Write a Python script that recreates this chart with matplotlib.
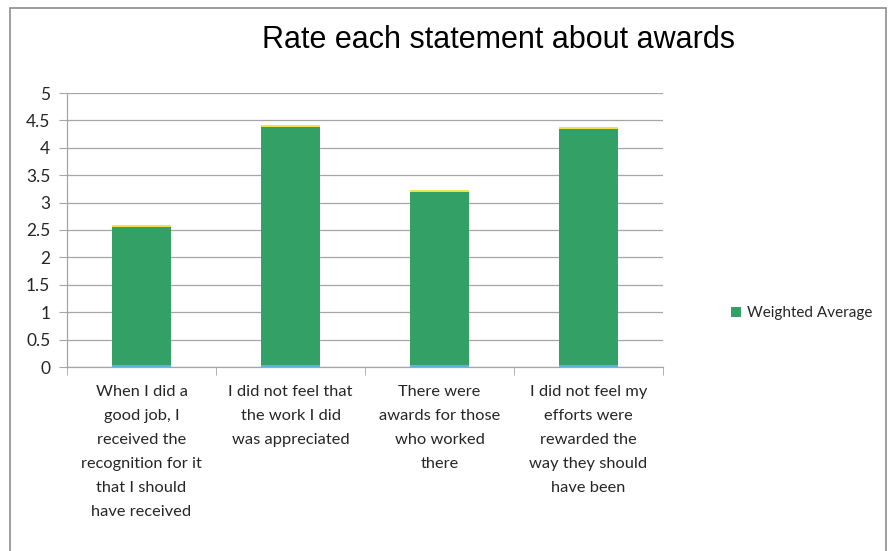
import numpy as np
import matplotlib
matplotlib.use('Agg')
from matplotlib import pyplot as plt
from matplotlib.patches import Rectangle

# data
statements = [
    'When I did a\ngood job, I\nreceived the\nrecognition for it\nthat I should\nhave received',
    'I did not feel that\nthe work I did\nwas appreciated',
    'There were\nawards for those\nwho worked\nthere',
    'I did not feel my\nefforts were\nrewarded the\nway they should\nhave been',
]
weighted_avg = [2.58, 4.40, 3.22, 4.36]
y_ticks = [0, 0.5, 1, 1.5, 2, 2.5, 3, 3.5, 4, 4.5, 5]
y_tick_labels = ['0', '0.5', '1', '1.5', '2', '2.5', '3', '3.5', '4', '4.5', '5']
title = 'Rate each statement about awards'
series_name = 'Weighted Average'

GREEN = '#33a165'
YELLOW = '#f2e34a'
BLUE = '#5fb8e0'
GRID = '#a6a6a6'
TXT = '#262626'
FONT = ['Lato', 'DejaVu Sans']

plt.rcParams['font.family'] = FONT

f = plt.figure(figsize=(8.88, 5.51), dpi=100)
ax = f.add_axes([67 / 888, 1 - 367 / 551, 596 / 888, 274 / 551])

x = np.arange(len(weighted_avg))
bw = 0.39
ax.bar(x, weighted_avg, width=bw, color=GREEN, zorder=3)
# thin highlight at top and bottom (excel style)
ax.hlines(weighted_avg, x - bw / 2, x + bw / 2, colors=YELLOW, lw=1.4, zorder=4)
ax.hlines([0.015] * len(x), x - bw / 2, x + bw / 2, colors=BLUE, lw=1.3, zorder=4)

ax.set_xlim(-0.5, len(x) - 0.5)
ax.set_ylim(0, 5)
ax.set_yticks(y_ticks)
ax.set_yticklabels(y_tick_labels)
ax.yaxis.grid(True, color=GRID, lw=0.9)
ax.set_axisbelow(True)

ax.set_xticks(x)
ax.set_xticklabels(statements, linespacing=1.9, va='top')
ax.set_xticks(np.arange(len(x) + 1) - 0.5, minor=True)
ax.tick_params(axis='x', which='major', length=0, pad=13, labelsize=11.8, colors=TXT)
ax.tick_params(axis='x', which='minor', length=6, color=GRID, direction='out')
ax.tick_params(axis='y', length=6, color=GRID, pad=6, labelsize=12.5, colors=TXT)

for s in ['top', 'right']:
    ax.spines[s].set_visible(False)
for s in ['left', 'bottom']:
    ax.spines[s].set_color(GRID)
    ax.spines[s].set_linewidth(0.9)

f.text(498 / 888, 1 - 40 / 551, title, ha='center', va='center',
       fontsize=22, color='black', family=['Liberation Sans', 'DejaVu Sans'])

# legend, right edge kept inside the frame
handle = Rectangle((0, 0), 1, 1, facecolor=GREEN, edgecolor='none')
f.legend([handle], [series_name], loc='center right',
         bbox_to_anchor=(872 / 888, 1 - 313 / 551), frameon=False,
         fontsize=11, handlelength=0.65, handleheight=0.65,
         handletextpad=0.4, labelcolor=TXT, borderaxespad=0, borderpad=0)

# chart border (bottom edge lies outside the picture)
f.add_artist(Rectangle((10 / 888, -0.05), 876 / 888, 1.05 - 8 / 551,
                       transform=f.transFigure, fill=False,
                       edgecolor='#8c8c8c', lw=1.2))

f.savefig('out.png', dpi=100)
